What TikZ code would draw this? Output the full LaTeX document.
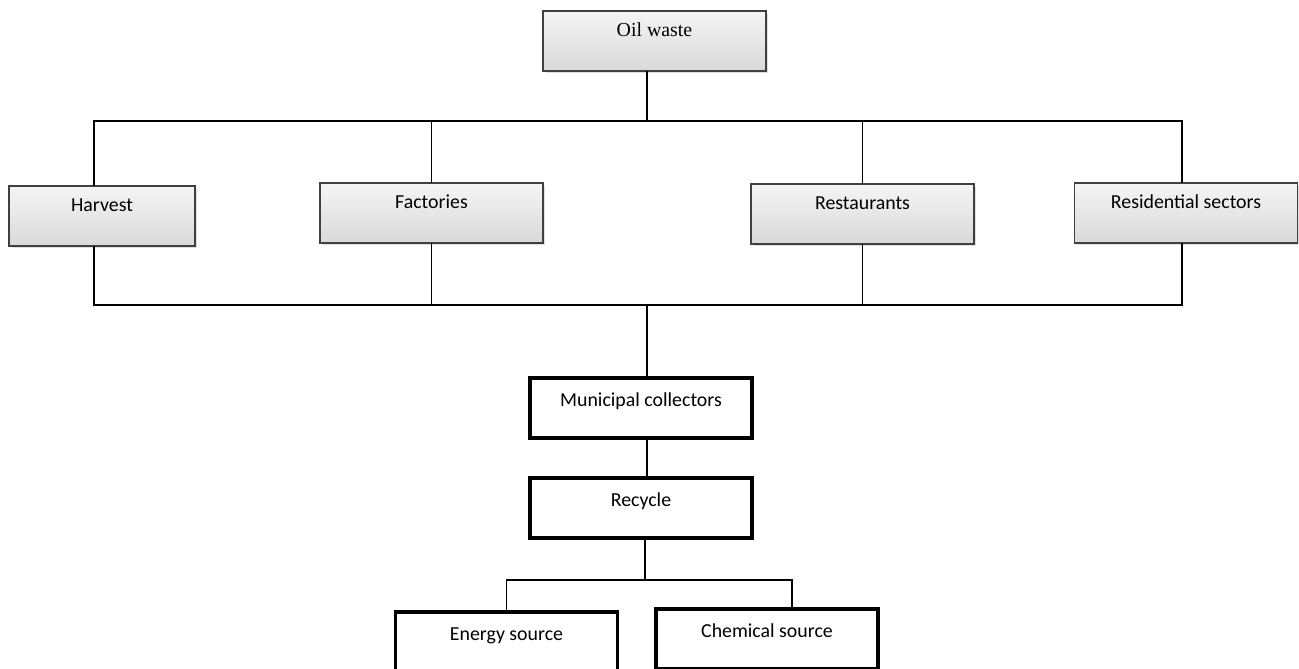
\documentclass[tikz,border=0pt]{standalone}
\usepackage{fontspec}
\setmainfont{Carlito}
\newfontfamily\oilfont{Liberation Serif}
\usepackage{tikz}
\usetikzlibrary{positioning, calc, shadows}
\tikzset{
  srcblock/.style = {rectangle, draw=black!75, line width=0.8pt,
    top color=gray!8, bottom color=gray!30,
    drop shadow={opacity=0.25, shadow xshift=0.05cm, shadow yshift=-0.05cm},
    minimum width=4.46cm, inner sep=0pt, text height=0.52cm, text depth=0.68cm, anchor=base},
  procblock/.style = {rectangle, draw, line width=1.9pt, fill=white,
    minimum width=4.44cm, inner sep=0pt, text height=0.56cm, text depth=0.64cm, anchor=base},
  line/.style = {line width=1.1pt, line cap=rect},
}
\begin{document}
\begin{tikzpicture}[x=0.02cm, y=-0.02cm, font=\fontsize{11.3}{13.5}\selectfont]
  \useasboundingbox (0,0) rectangle (1299,669);

  % Source
  \node[srcblock, font=\oilfont\fontsize{11.3}{13.5}\selectfont] (oil) at (654.5,37) {Oil waste};

  % Origins
  \node[srcblock, minimum width=3.72cm] (harvest) at (102,212) {Harvest};
  \node[srcblock] (factories)   at (431.5,209) {Factories};
  \node[srcblock] (restaurants) at (862.5,210) {Restaurants};
  \node[srcblock] (residential) at (1186,209)  {Residential sectors};

  % Collection and recycling
  \node[procblock] (municipal) at (641,406) {Municipal collectors};
  \node[procblock] (recycle)   at (641,506) {Recycle};

  % Uses
  \node[procblock] (energy)   at (506.5,640) {Energy source};
  \node[procblock] (chemical) at (767,637)   {Chemical source};

  % Bus points
  \coordinate (topbus) at (647,121);
  \coordinate (tl) at (94,121);
  \coordinate (tr) at (1182,121);
  \coordinate (botbus) at (647,305);
  \coordinate (bl) at (94,305);
  \coordinate (br) at (1182,305);
  \coordinate (split) at (645,580);
  \coordinate (sr) at (792,580);

  % Oil waste to origins
  \draw[line] (oil.south -| topbus) -- (topbus);
  \draw[line] (tl) -- (tr);
  \draw[line] (tl) -- (harvest.north -| tl);
  \draw[line] (factories.north |- tl) -- (factories.north);
  \draw[line] (restaurants.north |- tl) -- (restaurants.north);
  \draw[line] (tr) -- (residential.north -| tr);

  % Origins to collectors
  \draw[line] (harvest.south -| bl) -- (bl) -- (br) -- (residential.south -| br);
  \draw[line] (factories.south) -- (factories.south |- bl);
  \draw[line] (restaurants.south) -- (restaurants.south |- bl);
  \draw[line] (botbus) -- (municipal.north -| botbus);
  \draw[line] (municipal.south -| botbus) -- (recycle.north -| botbus);

  % Recycle to uses
  \draw[line] (recycle.south -| split) -- (split);
  \draw[line] (energy.north) |- (sr) -- (chemical.north -| sr);

\end{tikzpicture}
\end{document}
